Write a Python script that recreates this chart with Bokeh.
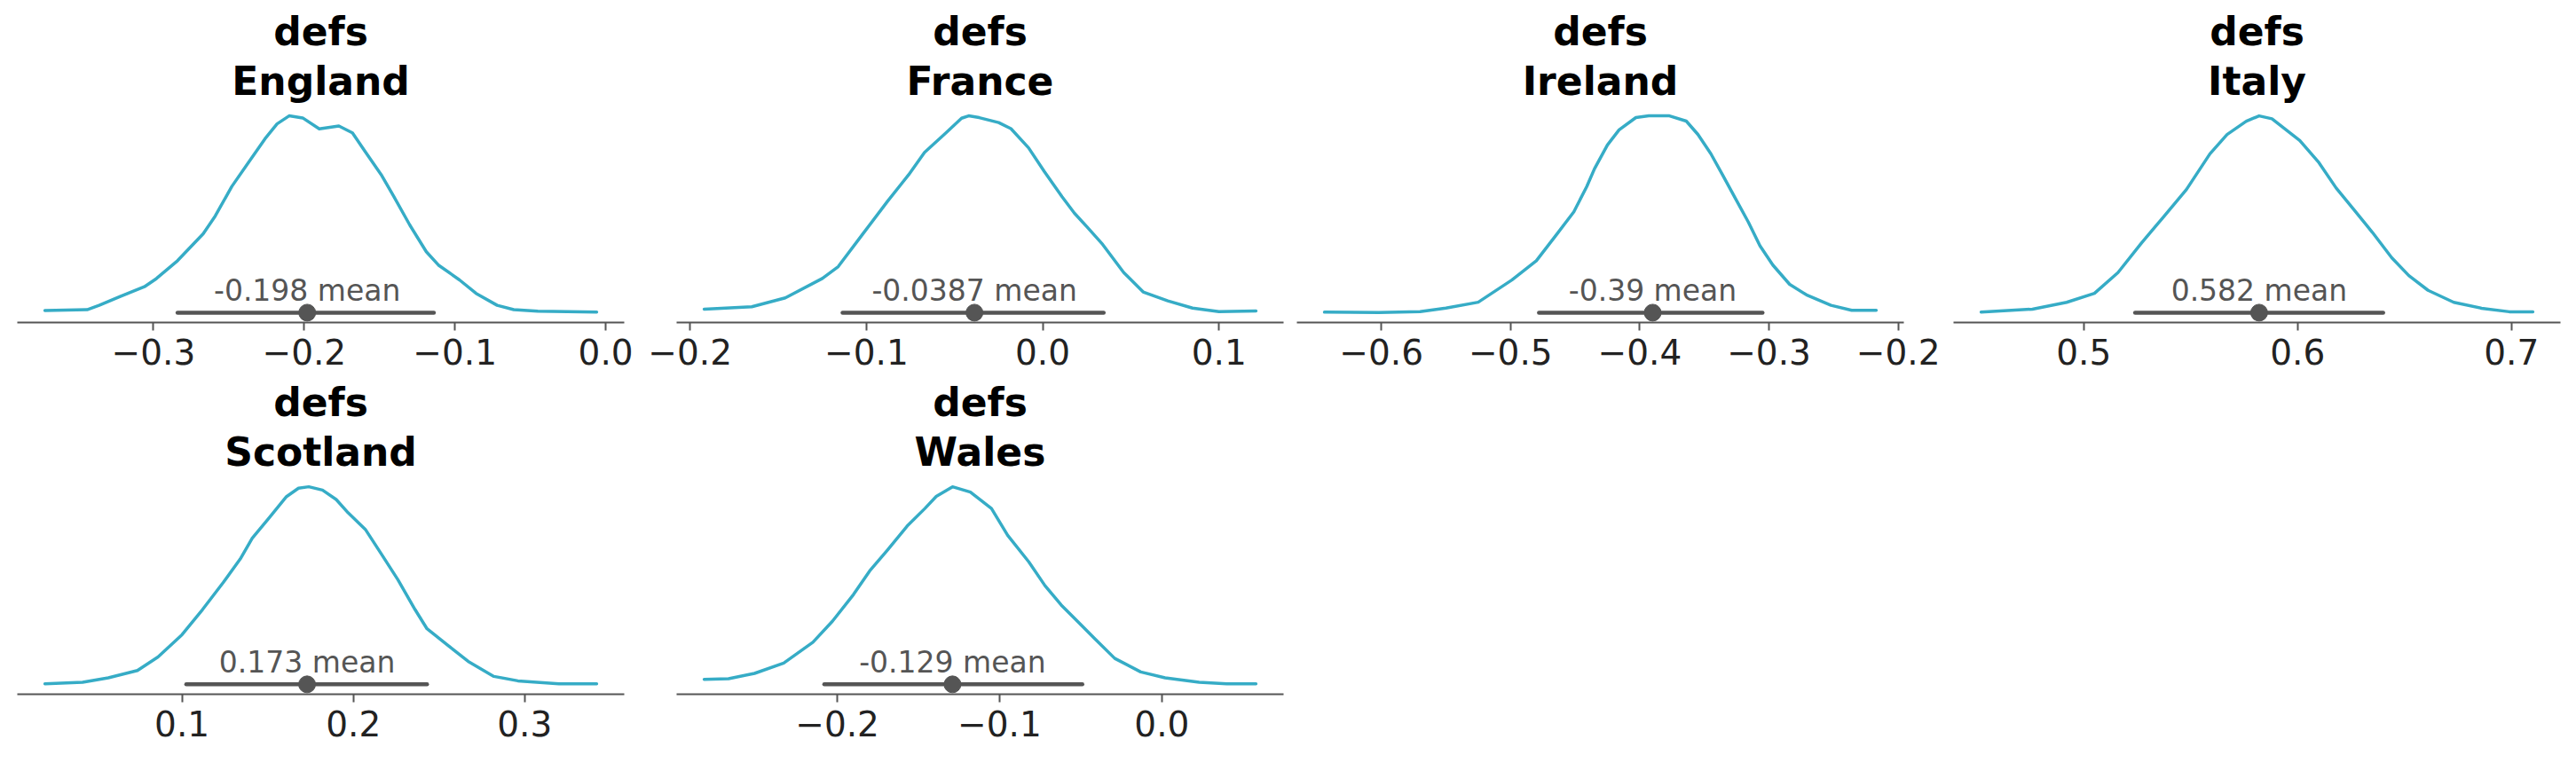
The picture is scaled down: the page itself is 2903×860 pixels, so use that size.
from bokeh.plotting import figure
from bokeh.layouts import column, row
from bokeh.models import Range1d, FixedTicker, Title, CustomJSTickFormatter
from bokeh.core.properties import value
from bokeh.embed import file_html
from bokeh.resources import INLINE

# ---- data -------------------------------------------------------------
var_name = "defs"
countries = ["England", "France", "Ireland", "Italy", "Scotland", "Wales"]

england_x = [-0.372, -0.344, -0.336, -0.322, -0.306, -0.298, -0.284, -0.267, -0.259, -0.248,
             -0.237, -0.226, -0.218, -0.210, -0.201, -0.190, -0.177, -0.168, -0.160, -0.149,
             -0.141, -0.130, -0.119, -0.111, -0.097, -0.086, -0.072, -0.061, -0.045, -0.006]
england_density = [0.09, 0.13, 0.32, 0.71, 1.13, 1.49, 2.27, 3.44, 4.22, 5.51,
                   6.55, 7.59, 8.24, 8.59, 8.50, 8.02, 8.15, 7.85, 7.07, 6.03,
                   5.12, 3.83, 2.66, 2.08, 1.43, 0.84, 0.32, 0.13, 0.06, 0.03]

france_x = [-0.192, -0.165, -0.146, -0.125, -0.116, -0.102, -0.088, -0.076, -0.067, -0.055,
            -0.046, -0.042, -0.036, -0.025, -0.018, -0.008, 0.001, 0.011, 0.018, 0.025,
            0.034, 0.046, 0.057, 0.071, 0.085, 0.100, 0.121]
france_density = [0.18, 0.30, 0.75, 1.73, 2.33, 3.99, 5.64, 6.99, 8.12, 9.10,
                  9.85, 9.97, 9.88, 9.63, 9.32, 8.35, 7.14, 5.87, 5.04, 4.36,
                  3.46, 2.03, 1.05, 0.60, 0.23, 0.05, 0.09]

ireland_x = [-0.644, -0.602, -0.570, -0.550, -0.525, -0.499, -0.480, -0.464, -0.451, -0.441,
             -0.435, -0.425, -0.416, -0.403, -0.393, -0.377, -0.364, -0.355, -0.345, -0.336,
             -0.326, -0.316, -0.307, -0.297, -0.284, -0.271, -0.252, -0.236, -0.217]
ireland_density = [0.02, 0.01, 0.04, 0.19, 0.44, 1.37, 2.18, 3.31, 4.24, 5.30,
                   6.05, 7.05, 7.68, 8.20, 8.27, 8.27, 8.05, 7.49, 6.68, 5.80,
                   4.80, 3.81, 2.81, 2.00, 1.19, 0.75, 0.31, 0.10, 0.10]

italy_x = [0.452, 0.476, 0.492, 0.505, 0.516, 0.527, 0.537, 0.548, 0.559, 0.567,
           0.576, 0.582, 0.588, 0.601, 0.610, 0.618, 0.626, 0.635, 0.644, 0.652,
           0.661, 0.673, 0.686, 0.699, 0.710]
italy_density = [0.04, 0.23, 0.68, 1.27, 2.64, 4.59, 6.26, 8.11, 10.46, 11.73,
                 12.61, 12.96, 12.77, 11.34, 9.87, 8.21, 6.84, 5.28, 3.62, 2.44,
                 1.47, 0.68, 0.29, 0.06, 0.06]

scotland_x = [0.020, 0.042, 0.057, 0.074, 0.086, 0.100, 0.112, 0.124, 0.134, 0.141,
              0.151, 0.161, 0.168, 0.174, 0.182, 0.190, 0.197, 0.207, 0.216, 0.226,
              0.236, 0.243, 0.255, 0.267, 0.282, 0.296, 0.320, 0.342]
scotland_density = [0.03, 0.11, 0.35, 0.75, 1.48, 2.68, 4.04, 5.49, 6.77, 7.89,
                    9.01, 10.14, 10.59, 10.67, 10.49, 9.98, 9.26, 8.37, 7.09, 5.65,
                    4.04, 3.00, 2.12, 1.24, 0.43, 0.19, 0.03, 0.03]

wales_x = [-0.282, -0.267, -0.251, -0.233, -0.215, -0.203, -0.190, -0.180, -0.169, -0.157,
           -0.146, -0.139, -0.129, -0.118, -0.105, -0.095, -0.082, -0.072, -0.062, -0.052,
           -0.041, -0.029, -0.013, 0.002, 0.023, 0.040, 0.058]
wales_density = [0.24, 0.27, 0.52, 1.01, 2.00, 2.99, 4.26, 5.38, 6.37, 7.50,
                 8.34, 8.91, 9.37, 9.12, 8.34, 7.07, 5.81, 4.68, 3.76, 2.99,
                 2.14, 1.23, 0.59, 0.31, 0.10, 0.03, 0.03]

means = [-0.198, -0.0387, -0.39, 0.582, 0.173, -0.129]
interval_low = [-0.284, -0.1135, -0.478, 0.524, 0.1025, -0.208]
interval_high = [-0.114, 0.0346, -0.305, 0.640, 0.243, -0.049]

tick_values = [
    [-0.3, -0.2, -0.1, 0.0],
    [-0.2, -0.1, 0.0, 0.1],
    [-0.6, -0.5, -0.4, -0.3, -0.2],
    [0.5, 0.6, 0.7],
    [0.1, 0.2, 0.3],
    [-0.2, -0.1, 0.0],
]

kde_x = [england_x, france_x, ireland_x, italy_x, scotland_x, wales_x]
kde_density = [england_density, france_density, ireland_density,
               italy_density, scotland_density, wales_density]

# ---- styling / geometry -------------------------------------------------
KDE_COLOR = "#36acc6"
GREY = "#555555"
TICK_TEXT = "#222222"
FONT = "DejaVu Sans"

FRAME_W = 684
col_borders = [(19, 22), (37, 7), (8, 45), (11, 18)]   # (left, right)
row_borders = [(119, 62), (112, 78)]                   # (top, bottom)
frame_heights = [244, 245]
TEXT_LIFT_PX = 25   # lift of the mean label above the interval line

minus_formatter = "return tick.toFixed(1).replace('-', '\u2212');"


def make_panel(i):
    r, c = divmod(i, 4)
    top, bottom = row_borders[r]
    left, right = col_borders[c]
    fh = frame_heights[r]

    xs, ys = kde_x[i], kde_density[i]
    span = xs[-1] - xs[0]
    x_range = Range1d(xs[0] - 0.05 * span, xs[-1] + 0.05 * span)
    ymax = max(ys)
    y_range = Range1d(-0.05 * ymax, 1.05 * ymax)
    units_per_px = (y_range.end - y_range.start) / fh

    p = figure(frame_width=FRAME_W, frame_height=fh, x_range=x_range, y_range=y_range,
               min_border_left=left, min_border_right=right,
               min_border_top=top, min_border_bottom=bottom,
               title=None, tools="", toolbar_location=None, output_backend="svg",
               y_axis_location=None)
    p.xgrid.visible = False
    p.ygrid.visible = False
    p.outline_line_color = None
    p.background_fill_color = "white"
    p.border_fill_color = "white"

    ax = p.xaxis[0]
    ax.ticker = FixedTicker(ticks=tick_values[i])
    ax.formatter = CustomJSTickFormatter(code=minus_formatter)
    ax.axis_line_color = GREY
    ax.axis_line_width = 2
    ax.major_tick_line_color = GREY
    ax.major_tick_line_width = 2
    ax.major_tick_out = 9
    ax.major_tick_in = 0
    ax.minor_tick_line_color = None
    ax.major_label_standoff = 9
    ax.major_label_text_font = FONT
    ax.major_label_text_font_size = "39px"
    ax.major_label_text_color = TICK_TEXT

    # density curve
    p.line(xs, ys, line_width=3.5, line_color=KDE_COLOR, line_join="round", line_cap="round")
    # credible interval and point estimate
    p.line([interval_low[i], interval_high[i]], [0, 0], line_width=4.5,
           line_color=GREY, line_cap="round")
    p.scatter([means[i]], [0], size=19, fill_color=GREY, line_color=GREY)
    p.text([means[i]], [TEXT_LIFT_PX * units_per_px], text=[f"{means[i]:.3g} mean"],
           text_align="center", text_baseline="alphabetic", text_font=value(FONT),
           text_font_size="33px", text_color=GREY)

    # two-line panel title: the first title added sits closest to the frame
    p.add_layout(Title(text=countries[i], align="center", text_font=FONT,
                       text_font_size="44px", text_font_style="bold",
                       text_color="black", standoff=6), "above")
    p.add_layout(Title(text=var_name, align="center", text_font=FONT,
                       text_font_size="44px", text_font_style="bold",
                       text_color="black", standoff=0), "above")
    return p


panels = [make_panel(i) for i in range(len(countries))]
layout = column(row(panels[0:4]), row(panels[4:6]))

open("out.html", "w").write(file_html(layout, INLINE))
